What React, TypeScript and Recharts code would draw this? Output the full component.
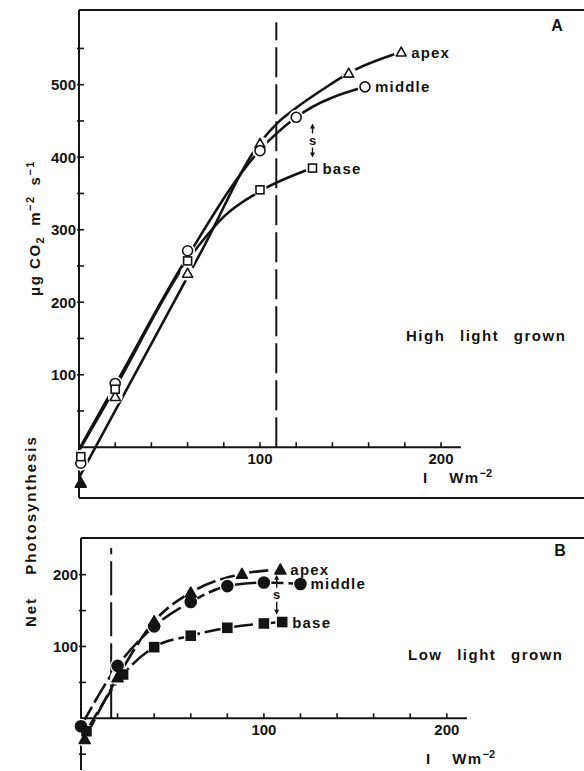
import React from 'react';
import { ComposedChart, Line, Scatter, XAxis, YAxis, ReferenceLine, ReferenceDot } from 'recharts';

const INK = '#141414';
const FONT = '"Liberation Sans", Arial, Helvetica, sans-serif';

// ---------- Panel A : High light grown ----------
const aApexI = [20, 60, 100, 149, 178];
const aApexP = [70, 240, 419, 516, 545];
const aApexDarkI = [1];
const aApexDarkP = [-49];
const aMiddleI = [1, 20, 60, 100, 120, 158];
const aMiddleP = [-22, 88, 271, 409, 455, 497];
const aBaseI = [1, 20, 60, 100, 129];
const aBaseP = [-13, 80, 257, 355, 385];
// fitted curves of panel A
const aApexCurveI = [0, 68, 100, 110, 120, 135, 149, 178];
const aApexCurveP = [-42, 272, 420, 448, 468, 494, 516, 545];
const aMiddleCurveI = [0, 20, 60, 100, 120, 158];
const aMiddleCurveP = [-3, 86, 263, 410, 455, 497];
const aBaseCurveI = [0, 20, 60, 70, 80, 100, 129];
const aBaseCurveP = [-5, 82, 258, 290, 318, 353, 385];

// ---------- Panel B : Low light grown ----------
const bApexI = [2, 20, 40, 60, 88, 109];
const bApexP = [-29, 57, 135, 175, 201, 207];
const bMiddleI = [0, 20, 40, 60, 80, 100, 120];
const bMiddleP = [-11, 73, 128, 162, 184, 189, 187];
const bBaseI = [3, 23, 40, 60, 80, 100, 110];
const bBaseP = [-18, 61, 99, 115, 126, 132, 134];

const seriesNames = ['apex', 'middle', 'base'];

// axes
const xTicks = [20, 40, 60, 80, 100, 120, 140, 160, 180, 200];
const xLabels = [100, 200];
const aYTicks = [50, 100, 150, 200, 250, 300, 350, 400, 450, 500, 550];
const aYLabels = [100, 200, 300, 400, 500];
const bYTicks = [-50, 50, 100, 150, 200];
const bYLabels = [100, 200];
const aXDomain = [0, 279];
const aYDomain = [-70, 603];
const bXDomain = [0, 275];
const bYDomain = [-72, 251];
const xAxisEnd = 211;
const aDashX = 109;
const aDashTop = 586;
const bDashX = 16.5;
const bDashTop = 237;
const aArrow = { x: 129, y: 423 };
const bArrow = { x: 107, y: 172 };

const pts = (I: number[], P: number[], tag?: string) =>
  I.map((x, i) => ({ x, y: P[i], tag: i === I.length - 1 ? tag : undefined }));

// layout
const A_H = 520;
const A_M = { top: 10, right: 0, bottom: 21, left: 78 };
const B_TOP = 520;
const B_H = 251;
const B_M = { top: 18, right: 0, bottom: 0, left: 80 };
const A_PLOT_H = A_H - A_M.top - A_M.bottom - 1;
const B_PLOT_H = B_H - B_M.top - B_M.bottom - 1;
const A_SHIFT = (A_PLOT_H * (0 - aYDomain[0])) / (aYDomain[1] - aYDomain[0]);
const B_SHIFT = (B_PLOT_H * (0 - bYDomain[0])) / (bYDomain[1] - bYDomain[0]);

const textStyle = { fontFamily: FONT, fontWeight: 700, fill: INK } as const;

const XTick = (props: any) => {
  const { x, y, payload, shift } = props;
  const y0 = y - shift;
  const v = payload.value;
  return (
    <g>
      <line x1={x} x2={x} y1={y0} y2={y0 - 5} stroke={INK} strokeWidth={1.6} />
      {xLabels.includes(v) && (
        <text x={x} y={y0 + 17} textAnchor="middle" fontSize={15} style={textStyle}>
          {v}
        </text>
      )}
    </g>
  );
};

const YTick = (props: any) => {
  const { x, y, payload, labels } = props;
  const v = payload.value;
  return (
    <g>
      <line x1={x - 2} x2={x + 5} y1={y} y2={y} stroke={INK} strokeWidth={1.6} />
      {labels.includes(v) && (
        <text x={x - 3} y={y + 5.5} textAnchor="end" fontSize={15} style={textStyle}>
          {v}
        </text>
      )}
    </g>
  );
};

const Marker = (props: any) => {
  const { cx, cy, kind, filled, halo, payload } = props;
  if (cx == null || cy == null) return null;
  if (halo) return <circle cx={cx} cy={cy} r={halo} fill="#fff" />;
  const fill = filled ? INK : '#fff';
  let shape: React.ReactNode;
  if (kind === 'circle') {
    shape = <circle cx={cx} cy={cy} r={filled ? 5.5 : 5} fill={fill} stroke={INK} strokeWidth={1.6} />;
  } else if (kind === 'square') {
    const s = filled ? 4.5 : 4;
    shape = <rect x={cx - s} y={cy - s} width={2 * s} height={2 * s} fill={fill} stroke={INK} strokeWidth={1.6} />;
  } else {
    const s = filled ? 5.5 : 5;
    shape = (
      <polygon
        points={`${cx},${cy - s} ${cx + s},${cy + s * 0.8} ${cx - s},${cy + s * 0.8}`}
        fill={fill}
        stroke={INK}
        strokeWidth={1.6}
        strokeLinejoin="round"
      />
    );
  }
  return (
    <g>
      {shape}
      {payload && payload.tag && (
        <text x={cx + 10} y={cy + 5.5} fontSize={15} letterSpacing={1.2} style={textStyle}>
          {payload.tag}
        </text>
      )}
    </g>
  );
};

const SArrow = (props: any) => {
  const { cx, cy, half } = props;
  if (cx == null) return null;
  return (
    <g>
      <line x1={cx} x2={cx} y1={cy - half + 3} y2={cy - 7} stroke={INK} strokeWidth={1.4} />
      <polygon points={`${cx},${cy - half} ${cx + 2.5},${cy - half + 5} ${cx - 2.5},${cy - half + 5}`} fill={INK} />
      <text x={cx} y={cy + 4.5} textAnchor="middle" fontSize={13} style={textStyle}>s</text>
      <line x1={cx} x2={cx} y1={cy + 7} y2={cy + half - 3} stroke={INK} strokeWidth={1.4} />
      <polygon points={`${cx},${cy + half} ${cx + 2.5},${cy + half - 5} ${cx - 2.5},${cy + half - 5}`} fill={INK} />
    </g>
  );
};

const scat = (data: any[], kind: string, filled: boolean, halo: number, key: string) => (
  <Scatter
    key={key}
    data={data}
    isAnimationActive={false}
    shape={(p: any) => <Marker {...p} kind={kind} filled={filled} halo={halo} />}
  />
);

export default function App() {
  const aApex = pts(aApexI, aApexP, seriesNames[0]);
  const aApexDark = pts(aApexDarkI, aApexDarkP);
  const aMiddle = pts(aMiddleI, aMiddleP, seriesNames[1]);
  const aBase = pts(aBaseI, aBaseP, seriesNames[2]);
  const bApex = pts(bApexI, bApexP, seriesNames[0]);
  const bMiddle = pts(bMiddleI, bMiddleP, seriesNames[1]);
  const bBase = pts(bBaseI, bBaseP, seriesNames[2]);

  return (
    <div style={{ position: 'absolute', left: 0, top: 0, width: 584, height: 771, background: '#fff', overflow: 'hidden' }}>
      <div style={{ position: 'absolute', left: 0, top: 0 }}>
        <ComposedChart width={584} height={A_H} margin={A_M}>
          <XAxis
            type="number"
            dataKey="x"
            domain={aXDomain}
            ticks={xTicks}
            interval={0}
            tickSize={0}
            tickMargin={0}
            height={1}
            axisLine={{ stroke: INK, strokeWidth: 2 }}
            tickLine={false}
            tick={<XTick shift={A_SHIFT} />}
          />
          <YAxis
            type="number"
            dataKey="y"
            domain={aYDomain}
            ticks={aYTicks}
            interval={0}
            tickSize={0}
            tickMargin={0}
            width={1}
            axisLine={{ stroke: INK, strokeWidth: 2 }}
            tickLine={false}
            tick={<YTick labels={aYLabels} />}
          />
          <ReferenceLine y={aYDomain[1]} stroke={INK} strokeWidth={2} />
          <ReferenceLine segment={[{ x: 0, y: 0 }, { x: xAxisEnd, y: 0 }]} stroke={INK} strokeWidth={2} />
          <ReferenceLine segment={[{ x: aDashX, y: 0 }, { x: aDashX, y: aDashTop }]} stroke={INK} strokeWidth={2} strokeDasharray="30 7" />
          <Line data={pts(aApexCurveI, aApexCurveP)} dataKey="y" type="monotone" stroke={INK} strokeWidth={2.6} dot={false} isAnimationActive={false} />
          <Line data={pts(aMiddleCurveI, aMiddleCurveP)} dataKey="y" type="monotone" stroke={INK} strokeWidth={2.6} dot={false} isAnimationActive={false} />
          <Line data={pts(aBaseCurveI, aBaseCurveP)} dataKey="y" type="monotone" stroke={INK} strokeWidth={2.6} dot={false} isAnimationActive={false} />
          {scat(aApex, 'tri', false, 7.5, 'ha1')}
          {scat(aMiddle, 'circle', false, 7.5, 'ha2')}
          {scat(aBase, 'square', false, 7, 'ha3')}
          {scat(aApex, 'tri', false, 0, 'ma1')}
          {scat(aApexDark, 'tri', true, 0, 'ma0')}
          {scat(aMiddle, 'circle', false, 0, 'ma2')}
          {scat(aBase, 'square', false, 0, 'ma3')}
          <ReferenceDot x={aArrow.x} y={aArrow.y} r={0} shape={(p: any) => <SArrow {...p} half={17} />} />
        </ComposedChart>
      </div>

      <div style={{ position: 'absolute', left: 0, top: B_TOP }}>
        <ComposedChart width={584} height={B_H} margin={B_M}>
          <XAxis
            type="number"
            dataKey="x"
            domain={bXDomain}
            ticks={xTicks}
            interval={0}
            tickSize={0}
            tickMargin={0}
            height={1}
            axisLine={false}
            tickLine={false}
            tick={<XTick shift={B_SHIFT} />}
          />
          <YAxis
            type="number"
            dataKey="y"
            domain={bYDomain}
            ticks={bYTicks}
            interval={0}
            tickSize={0}
            tickMargin={0}
            width={1}
            axisLine={{ stroke: INK, strokeWidth: 2 }}
            tickLine={false}
            tick={<YTick labels={bYLabels} />}
          />
          <ReferenceLine y={bYDomain[1]} stroke={INK} strokeWidth={2} />
          <ReferenceLine segment={[{ x: 0, y: 0 }, { x: xAxisEnd, y: 0 }]} stroke={INK} strokeWidth={2} />
          <ReferenceLine segment={[{ x: bDashX, y: 0 }, { x: bDashX, y: bDashTop }]} stroke={INK} strokeWidth={2} strokeDasharray="34 7" />
          <Line data={bApex} dataKey="y" type="monotone" stroke={INK} strokeWidth={2.6} strokeDasharray="22 5" dot={false} isAnimationActive={false} />
          <Line data={bMiddle} dataKey="y" type="monotone" stroke={INK} strokeWidth={2.6} strokeDasharray="22 5" dot={false} isAnimationActive={false} />
          <Line data={bBase} dataKey="y" type="monotone" stroke={INK} strokeWidth={2.6} strokeDasharray="22 5" dot={false} isAnimationActive={false} />
          {scat(bApex, 'tri', true, 7.5, 'hb1')}
          {scat(bMiddle, 'circle', true, 7.5, 'hb2')}
          {scat(bBase, 'square', true, 7, 'hb3')}
          {scat(bApex, 'tri', true, 0, 'mb1')}
          {scat(bMiddle, 'circle', true, 0, 'mb2')}
          {scat(bBase, 'square', true, 0, 'mb3')}
          <ReferenceDot x={bArrow.x} y={bArrow.y} r={0} shape={(p: any) => <SArrow {...p} half={20} />} />
        </ComposedChart>
      </div>

      <svg width={584} height={771} style={{ position: 'absolute', left: 0, top: 0, pointerEvents: 'none' }}>
        <g style={textStyle}>
          <text x={557} y={31} fontSize={16} textAnchor="middle">A</text>
          <text x={560} y={556} fontSize={16} textAnchor="middle">B</text>
          <text x={406} y={341} fontSize={15} letterSpacing={1.5} wordSpacing={9}>High light grown</text>
          <text x={408} y={660} fontSize={15} letterSpacing={1.5} wordSpacing={9}>Low light grown</text>
          <text x={423} y={483} fontSize={15}>
            I<tspan dx={22} letterSpacing={1.5}>Wm</tspan>
            <tspan dy={-6} fontSize={11}>−2</tspan>
          </text>
          <text x={426} y={764} fontSize={15}>
            I<tspan dx={22} letterSpacing={1.5}>Wm</tspan>
            <tspan dy={-6} fontSize={11}>−2</tspan>
          </text>
          <text transform="translate(40,228) rotate(-90)" fontSize={15} textAnchor="middle" letterSpacing={1.5}>
            μg CO<tspan dy={4} fontSize={11}>2</tspan>
            <tspan dy={-4} dx={10}>m</tspan>
            <tspan dy={-6} fontSize={11}>−2</tspan>
            <tspan dy={6} dx={10}>s</tspan>
            <tspan dy={-6} fontSize={11}>−1</tspan>
          </text>
          <text transform="translate(36,505) rotate(-90)" fontSize={15} textAnchor="middle" letterSpacing={2}>Photosynthesis</text>
          <text transform="translate(36,612) rotate(-90)" fontSize={15} textAnchor="middle" letterSpacing={2}>Net</text>
        </g>
      </svg>
    </div>
  );
}
